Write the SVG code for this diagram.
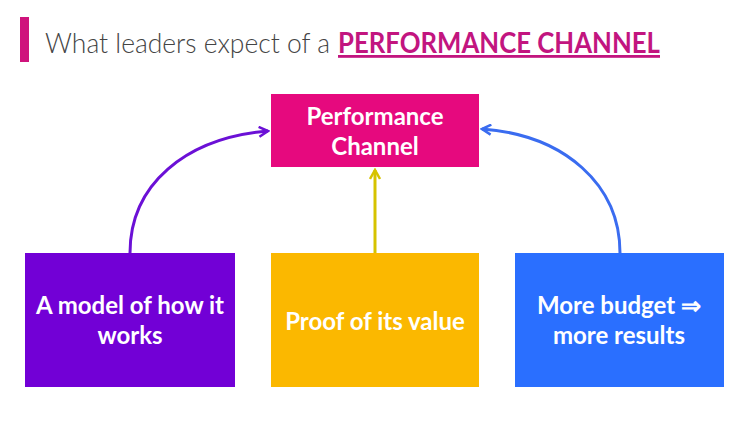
<svg xmlns="http://www.w3.org/2000/svg" width="750" height="421" viewBox="0 0 750 421">
<style>
.lbl{font-family:Lato,"Open Sans","Liberation Sans",sans-serif;font-weight:700;font-size:24px;fill:#ffffff;text-anchor:middle}
.ttl{font-family:Lato,"Open Sans","Liberation Sans",sans-serif;font-size:28px}
.con{fill:none;stroke-width:3}
</style>
<defs>
<marker id="mP" viewBox="0 0 12 12" refX="10" refY="6" markerWidth="12" markerHeight="12" markerUnits="userSpaceOnUse" orient="auto"><path d="M1,1 L10,6 L1,11" fill="none" stroke="#6b10d6" stroke-width="2.5"/></marker>
<marker id="mY" viewBox="0 0 12 12" refX="10" refY="6" markerWidth="12" markerHeight="12" markerUnits="userSpaceOnUse" orient="auto"><path d="M1,1 L10,6 L1,11" fill="none" stroke="#d6c300" stroke-width="2.5"/></marker>
<marker id="mB" viewBox="0 0 12 12" refX="10" refY="6" markerWidth="12" markerHeight="12" markerUnits="userSpaceOnUse" orient="auto"><path d="M1,1 L10,6 L1,11" fill="none" stroke="#3a6cf0" stroke-width="2.5"/></marker>
</defs>
<rect width="750" height="421" fill="#ffffff"/>
<g id="title">
<rect x="20" y="17" width="9" height="45" fill="#cf137c"/>
<text class="ttl" x="45" y="53" fill="#444444" font-weight="300" textLength="285" lengthAdjust="spacingAndGlyphs">What leaders expect of a</text>
<text class="ttl" x="338" y="53" fill="#c2157f" font-weight="700" text-decoration="underline" textLength="322" lengthAdjust="spacingAndGlyphs">PERFORMANCE CHANNEL</text>
</g>
<g id="connectors">
<path class="con" stroke="#6b10d6" d="M130,253 C130,185 185,138 268,131" marker-end="url(#mP)"/>
<path class="con" stroke="#d6c300" d="M375,253 L375,170" marker-end="url(#mY)"/>
<path class="con" stroke="#3a6cf0" d="M620,253 C620,185 565,135 482,129" marker-end="url(#mB)"/>
</g>
<g id="node-performance">
<rect x="271" y="94" width="208" height="73" fill="#e6097e"/>
<text class="lbl" x="375" y="125">Performance</text>
<text class="lbl" x="375" y="155">Channel</text>
</g>
<g id="node-model">
<rect x="25" y="253" width="210" height="134" fill="#7200d6"/>
<text class="lbl" x="130" y="314">A model of how it</text>
<text class="lbl" x="130" y="344">works</text>
</g>
<g id="node-proof">
<rect x="271" y="253" width="208" height="134" fill="#fbb800"/>
<text class="lbl" x="375" y="330">Proof of its value</text>
</g>
<g id="node-budget">
<rect x="515" y="253" width="209" height="134" fill="#2a6fff"/>
<text class="lbl" x="619" y="314">More budget ⇒</text>
<text class="lbl" x="619" y="344">more results</text>
</g>
</svg>
